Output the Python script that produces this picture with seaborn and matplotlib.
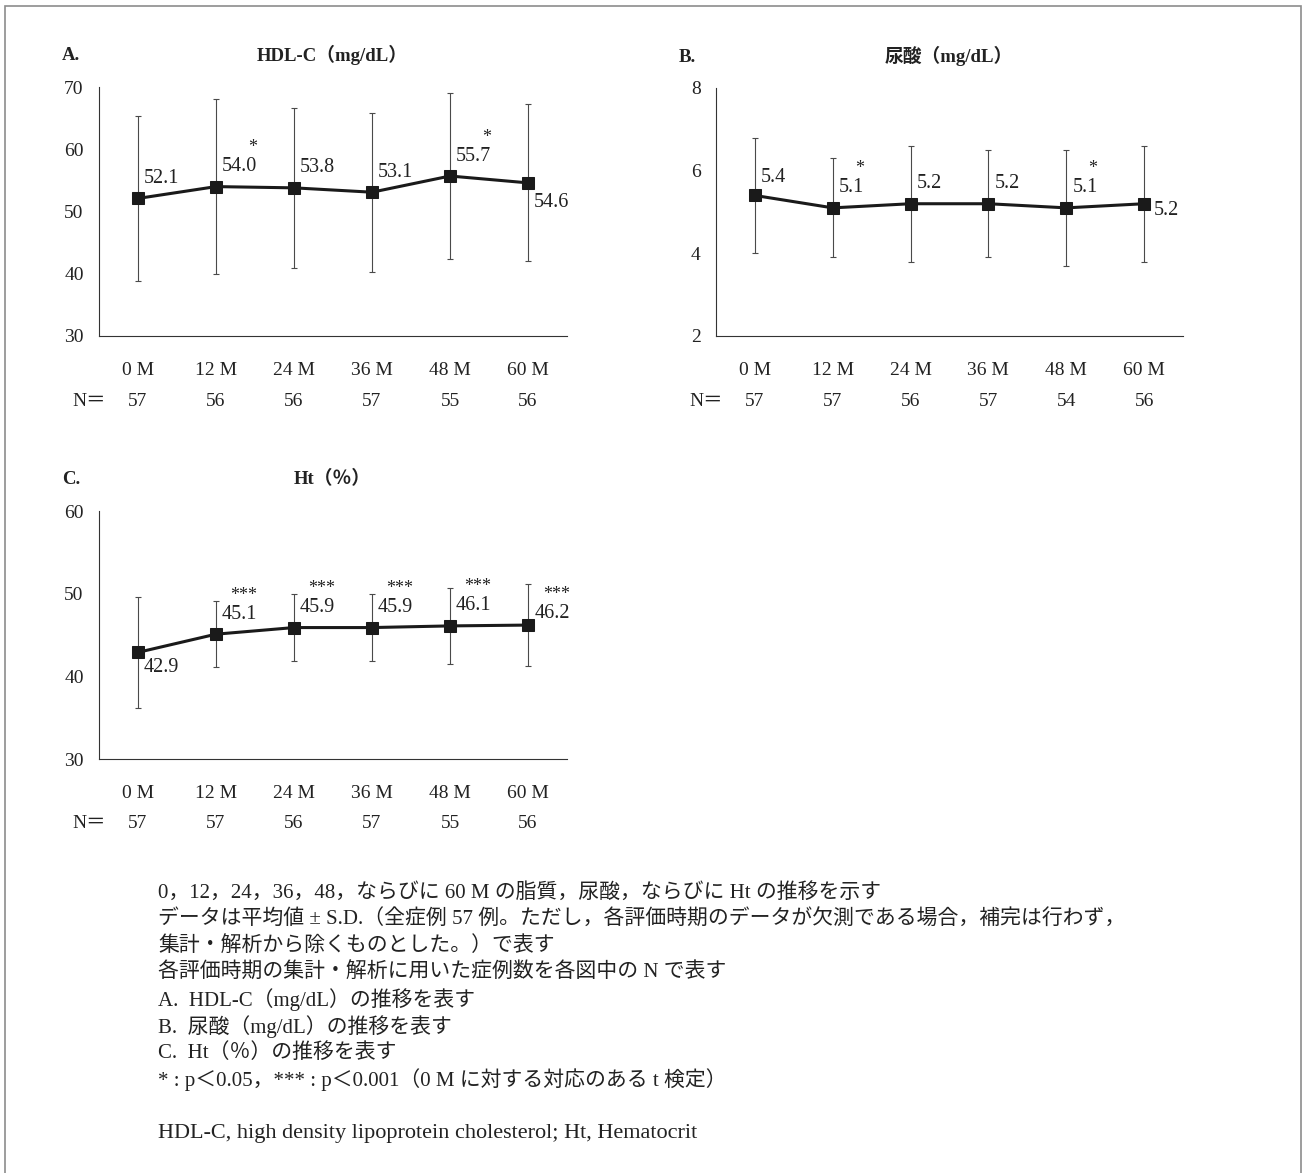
import matplotlib
matplotlib.use("Agg")
import matplotlib.pyplot as plt
from matplotlib.patches import Rectangle
import seaborn as sns
import pandas as pd

# --- data ---
months = ["0 M", "12 M", "24 M", "36 M", "48 M", "60 M"]

hdl_mean = [52.1, 54.0, 53.8, 53.1, 55.7, 54.6]
hdl_sd = [13.2, 14.1, 12.9, 12.8, 13.4, 12.6]
hdl_n = [57, 56, 56, 57, 55, 56]
hdl_sig = ["", "*", "", "", "*", ""]

ua_mean = [5.4, 5.1, 5.2, 5.2, 5.1, 5.2]
ua_sd = [1.4, 1.2, 1.4, 1.3, 1.4, 1.4]
ua_n = [57, 57, 56, 57, 54, 56]
ua_sig = ["", "*", "", "", "*", ""]

ht_mean = [42.9, 45.1, 45.9, 45.9, 46.1, 46.2]
ht_sd = [6.7, 4.0, 4.1, 4.0, 4.6, 5.0]
ht_n = [57, 57, 56, 57, 55, 56]
ht_sig = ["", "***", "***", "***", "***", "***"]

caption = [
    "0，12，24，36，48，ならびに 60 M の脂質，尿酸，ならびに Ht の推移を示す",
    "データは平均値 ± S.D.（全症例 57 例。ただし，各評価時期のデータが欠測である場合，補完は行わず，",
    "集計・解析から除くものとした。）で表す",
    "各評価時期の集計・解析に用いた症例数を各図中の N で表す",
    "A.  HDL-C（mg/dL）の推移を表す",
    "B.  尿酸（mg/dL）の推移を表す",
    "C.  Ht（％）の推移を表す",
    "* : p＜0.05，*** : p＜0.001（0 M に対する対応のある t 検定）",
    "",
    "HDL-C, high density lipoprotein cholesterol; Ht, Hematocrit",
]

sns.set_style("white")
plt.rcParams["font.family"] = ["Liberation Serif", "Noto Sans CJK JP", "DejaVu Sans"]
plt.rcParams["text.color"] = "#222222"

W, H = 1304, 1173
fig = plt.figure(figsize=(W / 100, H / 100), dpi=100)


def px_axes(left, top, right, bottom):
    return fig.add_axes([left / W, 1 - bottom / H, (right - left) / W, (bottom - top) / H])


def panel(ax, letter, title, title_x, mean, sd, n, sig, ylim, yticks, label_off):
    x = list(range(len(months)))
    df = pd.DataFrame({"x": x, "mean": mean})
    ax.errorbar(x, mean, yerr=sd, fmt="none", ecolor="#4a4a4a", elinewidth=0.8,
                capsize=2.2, capthick=0.8, zorder=2)
    sns.lineplot(data=df, x="x", y="mean", ax=ax, color="#1a1a1a", linewidth=2.2,
                 marker="s", markersize=8.5, markeredgecolor="#1a1a1a", zorder=3)
    ax.set_xlim(-0.5, len(months) - 0.5)
    ax.set_ylim(*ylim)
    ax.set_yticks(yticks)
    ax.set_xticks(x)
    ax.set_xticklabels(months)
    ax.set_xlabel("")
    ax.set_ylabel("")
    for s in ["top", "right"]:
        ax.spines[s].set_visible(False)
    for s in ["left", "bottom"]:
        ax.spines[s].set_color("#333333")
        ax.spines[s].set_linewidth(0.8)
    ax.tick_params(axis="y", length=0, pad=11, labelsize=14, colors="#222222")
    ax.tick_params(axis="x", length=0, pad=19, labelsize=14, colors="#222222")

    # value labels and significance marks
    for i, m in enumerate(mean):
        dx, dy = label_off[i]
        t = ax.annotate(f"{m:.1f}", xy=(i, m), xytext=(dx, dy), textcoords="offset pixels",
                        ha="left", va="center", fontsize=14.5, color="#222222", zorder=4)
        if sig[i]:
            ax.annotate(sig[i], xy=(1, 0.5), xycoords=t, xytext=(0, 19),
                        textcoords="offset pixels", ha="right", va="center",
                        fontsize=13, color="#222222")

    # N row
    for i, v in enumerate(n):
        ax.annotate(str(v), xy=(i, 0), xycoords=("data", "axes fraction"), xytext=(0, -65),
                    textcoords="offset pixels", ha="center", va="center", fontsize=14)
    ax.annotate("N＝", xy=(0, 0), xycoords="axes fraction", xytext=(-10, -65),
                textcoords="offset pixels", ha="center", va="center", fontsize=14)

    bb = ax.get_position()
    fig.text(bb.x0 - 37 / W, bb.y1 + 31 / H, letter, fontsize=13.5, fontweight="bold",
             ha="left", va="center")
    fig.text(title_x / W, bb.y1 + 32 / H, title, fontsize=13.5, fontweight="bold",
             ha="center", va="center")


up = (6, 20)
axA = px_axes(99, 87, 567, 336)
panel(axA, "A.", "HDL-C（mg/dL）", 332, hdl_mean, hdl_sd, hdl_n, hdl_sig,
      (30, 70), [30, 40, 50, 60, 70], [up, up, up, up, up, (6, -20)])

axB = px_axes(716, 88, 1183, 336)
panel(axB, "B.", "尿酸（mg/dL）", 949, ua_mean, ua_sd, ua_n, ua_sig,
      (2, 8), [2, 4, 6, 8], [(6, 18), up, up, up, up, (10, -7)])

axC = px_axes(99, 511, 567, 759)
panel(axC, "C.", "Ht（％）", 332, ht_mean, ht_sd, ht_n, ht_sig,
      (30, 60), [30, 40, 50, 60], [(6, -15), up, up, up, up, (7, 12)])

# caption (the last, all-latin line is set a little larger to match its width)
for k, line in enumerate(caption):
    if line:
        size = 16 if k == len(caption) - 1 else 15
        fig.text(158 / W, 1 - (893 + k * 26.7) / H, line, fontsize=size,
                 ha="left", va="center", color="#222222")

# outer frame
fig.add_artist(Rectangle((5 / W, -0.01), (1301 - 5) / W, 1.01 - 6 / H, transform=fig.transFigure,
                         fill=False, edgecolor="#8c8c8c", linewidth=1.2))

fig.savefig("out.png", dpi=100, facecolor="white")
